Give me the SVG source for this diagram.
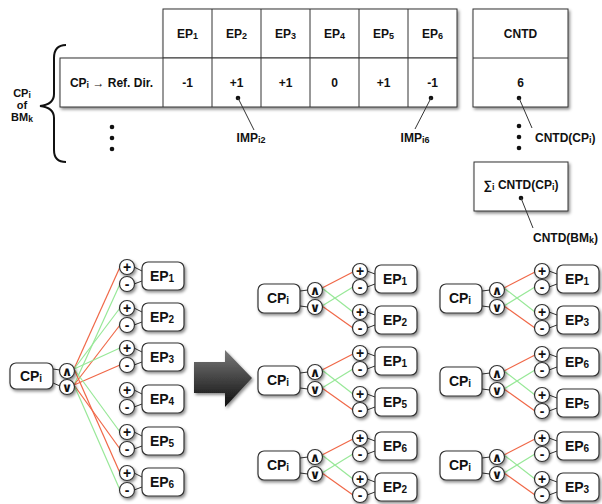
<svg xmlns="http://www.w3.org/2000/svg" width="602" height="504" viewBox="0 0 602 504">
<defs>
<filter id="sh" x="-20%" y="-20%" width="150%" height="160%"><feDropShadow dx="1.5" dy="2" stdDeviation="1.4" flood-color="#000" flood-opacity="0.45"/></filter>
<linearGradient id="ag" x1="0" y1="0" x2="0" y2="1"><stop offset="0" stop-color="#7a7a7a"/><stop offset="1" stop-color="#0d0d0d"/></linearGradient>
<style>
.t{font-family:"Liberation Sans",Arial,sans-serif;font-weight:bold;fill:#111;text-anchor:middle}
.ts{font-size:12px}
.tb{font-size:14px}
.sym{font-family:"DejaVu Sans","Liberation Sans",sans-serif;font-weight:bold;fill:#111;text-anchor:middle;font-size:13px}
.pm{font-family:"Liberation Sans",Arial,sans-serif;font-weight:bold;fill:#111;text-anchor:middle;font-size:14px}
.cell{fill:#fff;stroke:#333;stroke-width:1}
.rb{fill:#fff;stroke:#333;stroke-width:1.2;filter:url(#sh)}
.c{fill:#fff;stroke:#333;stroke-width:1.2;filter:url(#sh)}
.r{stroke:#f06848;stroke-width:1.2;fill:none}
.g{stroke:#98e898;stroke-width:1.2;fill:none}
.k{stroke:#333;stroke-width:1;fill:none}
.dot{fill:#111}
</style>
</defs>
<rect width="602" height="504" fill="#fff"/>

<!-- Top table -->
<g id="table">
<g filter="url(#sh)">
<rect class="cell" x="163" y="9" width="294" height="49"/>
<rect class="cell" x="60" y="58" width="397" height="49"/>
</g>
<path class="k" d="M163 58V107M212 9V107M261 9V107M310 9V107M359 9V107M408 9V107"/>
<text class="t ts" x="187.5" y="38">EP<tspan font-size="9" dy="1">1</tspan></text>
<text class="t ts" x="236.5" y="38">EP<tspan font-size="9" dy="1">2</tspan></text>
<text class="t ts" x="285.5" y="38">EP<tspan font-size="9" dy="1">3</tspan></text>
<text class="t ts" x="334.5" y="38">EP<tspan font-size="9" dy="1">4</tspan></text>
<text class="t ts" x="383.5" y="38">EP<tspan font-size="9" dy="1">5</tspan></text>
<text class="t ts" x="432.5" y="38">EP<tspan font-size="9" dy="1">6</tspan></text>
<text class="t ts" x="111.5" y="87">CP<tspan font-size="9" dy="1">i</tspan><tspan dy="-1"> → Ref. Dir.</tspan></text>
<text class="t ts" x="187.5" y="87">-1</text>
<text class="t ts" x="236.5" y="87">+1</text>
<text class="t ts" x="285.5" y="87">+1</text>
<text class="t ts" x="334.5" y="87">0</text>
<text class="t ts" x="383.5" y="87">+1</text>
<text class="t ts" x="432.5" y="87">-1</text>
</g>

<g id="cntd">
<rect class="cell" x="473" y="9" width="95" height="98" filter="url(#sh)"/>
<path class="k" d="M473 58H568"/>
<text class="t ts" x="520.5" y="38">CNTD</text>
<text class="t ts" x="520.5" y="87">6</text>
</g>

<g id="sum">
<rect class="cell" x="474" y="162" width="94" height="49" filter="url(#sh)"/>
<text class="t ts" x="521" y="189">∑<tspan font-size="9" dy="1">i</tspan><tspan dy="-1"> CNTD(CP</tspan><tspan font-size="9" dy="1">i</tspan><tspan dy="-1">)</tspan></text>
</g>

<g id="brace">
<path d="M66 45C58 45 54 49 54 58L54 94C54 101 49 105 40 106C49 107 54 111 54 118L54 150C54 158 58 162 66 162" fill="none" stroke="#111" stroke-width="2"/>
<text class="t" font-size="11" x="22" y="97">CP<tspan font-size="8.5" dy="0.5">i</tspan></text>
<text class="t" font-size="11" x="22" y="109">of</text>
<text class="t" font-size="11" x="22" y="121">BM<tspan font-size="8.5" dy="0.5">k</tspan></text>
</g>

<g id="annotations">
<circle class="dot" cx="112" cy="127" r="2.3"/><circle class="dot" cx="112" cy="138" r="2.3"/><circle class="dot" cx="112" cy="149" r="2.3"/>
<circle class="dot" cx="519" cy="126" r="2.3"/><circle class="dot" cx="519" cy="137" r="2.3"/><circle class="dot" cx="519" cy="148" r="2.3"/>
<circle class="dot" cx="238" cy="98" r="2.3"/><path class="k" d="M238 98L254 130"/>
<text class="t ts" x="251" y="142">IMP<tspan font-size="9" dy="1">i2</tspan></text>
<circle class="dot" cx="431" cy="98" r="2.3"/><path class="k" d="M431 98L415 129"/>
<text class="t ts" x="415" y="142">IMP<tspan font-size="9" dy="1">i6</tspan></text>
<circle class="dot" cx="519" cy="98" r="2.3"/><path class="k" d="M519 98L532 128"/>
<text class="t ts" x="535" y="142" style="text-anchor:start">CNTD(CP<tspan font-size="9" dy="1">i</tspan><tspan dy="-1">)</tspan></text>
<circle class="dot" cx="521" cy="198" r="2.3"/><path class="k" d="M521 198L533 228"/>
<text class="t ts" x="533" y="242" style="text-anchor:start">CNTD(BM<tspan font-size="9" dy="1">k</tspan><tspan dy="-1">)</tspan></text>
</g>

<!-- Big arrow -->
<g id="arrow">
<polygon points="194,362 225,362 225,350 252,378 225,407 225,393 194,393" fill="url(#ag)" filter="url(#sh)"/>
</g>

<!-- Connectors -->
<g id="connectors">
<path class="r" d="M74 369L120 267"/>
<path class="g" d="M74 385L120 284"/>
<path class="g" d="M74 369L120 308"/>
<path class="r" d="M74 385L120 325"/>
<path class="g" d="M74 369L120 348"/>
<path class="r" d="M74 385L120 365"/>
<path class="g" d="M74 369L120 432"/>
<path class="r" d="M74 385L120 449"/>
<path class="r" d="M74 369L120 473"/>
<path class="g" d="M74 385L120 490"/>
<path class="k" d="M53 369L60 370M53 383L60 386"/>
<path class="k" d="M134 267L142 271M134 284L142 281M134 308L142 312M134 325L142 322M134 348L142 352M134 365L142 362M134 390L142 394M134 407L142 404M134 432L142 436M134 449L142 446M134 473L142 477M134 490L142 487"/>
<g transform="translate(0,298)">
<path class="r" d="M322 -10L353 -26"/><path class="g" d="M322 -10L353 14"/><path class="g" d="M322 8L353 -11"/><path class="r" d="M322 8L353 30"/>
<path class="k" d="M300 -7L308 -8M300 8L308 9M367 -27L375 -24M367 -11L375 -14M367 14L375 17M367 30L375 27"/>
</g>
<g transform="translate(0,380)">
<path class="r" d="M322 -10L353 -26"/><path class="g" d="M322 -10L353 14"/><path class="g" d="M322 8L353 -11"/><path class="r" d="M322 8L353 30"/>
<path class="k" d="M300 -7L308 -8M300 8L308 9M367 -27L375 -24M367 -11L375 -14M367 14L375 17M367 30L375 27"/>
</g>
<g transform="translate(0,465)">
<path class="r" d="M322 -10L353 -26"/><path class="g" d="M322 -10L353 14"/><path class="g" d="M322 8L353 -11"/><path class="r" d="M322 8L353 30"/>
<path class="k" d="M300 -7L308 -8M300 8L308 9M367 -27L375 -24M367 -11L375 -14M367 14L375 17M367 30L375 27"/>
</g>
<g transform="translate(182,298)">
<path class="r" d="M322 -10L353 -26"/><path class="g" d="M322 -10L353 14"/><path class="g" d="M322 8L353 -11"/><path class="r" d="M322 8L353 30"/>
<path class="k" d="M300 -7L308 -8M300 8L308 9M367 -27L375 -24M367 -11L375 -14M367 14L375 17M367 30L375 27"/>
</g>
<g transform="translate(182,381)">
<path class="r" d="M322 -10L353 -26"/><path class="g" d="M322 -10L353 14"/><path class="g" d="M322 8L353 -11"/><path class="r" d="M322 8L353 30"/>
<path class="k" d="M300 -7L308 -8M300 8L308 9M367 -27L375 -24M367 -11L375 -14M367 14L375 17M367 30L375 27"/>
</g>
<g transform="translate(182,465)">
<path class="r" d="M322 -10L353 -26"/><path class="g" d="M322 -10L353 14"/><path class="g" d="M322 8L353 -11"/><path class="r" d="M322 8L353 30"/>
<path class="k" d="M300 -7L308 -8M300 8L308 9M367 -27L375 -24M367 -11L375 -14M367 14L375 17M367 30L375 27"/>
</g>
</g>

<!-- Left graph nodes -->
<g id="left-cp">
<rect class="rb" x="10" y="363" width="43" height="26" rx="6"/>
<text class="t tb" x="31" y="381">CP<tspan font-size="10" dy="1">i</tspan></text>
<circle class="c" cx="67" cy="371" r="7.5"/><text class="sym" x="67" y="375.5">∧</text>
<circle class="c" cx="67" cy="387" r="7.5"/><text class="sym" x="67" y="391.5">∨</text>
</g>
<g id="left-ep1" transform="translate(0,276)">
<circle class="c" cx="127" cy="-9" r="7.5"/><text class="pm" x="127" y="-4">+</text>
<circle class="c" cx="127" cy="8" r="7.5"/><text class="pm" x="127" y="13">-</text>
<rect class="rb" x="142" y="-14" width="42" height="28" rx="6"/>
<text class="t tb" x="162" y="5">EP<tspan font-size="10" dy="1">1</tspan></text>
</g>
<g id="left-ep2" transform="translate(0,317)">
<circle class="c" cx="127" cy="-9" r="7.5"/><text class="pm" x="127" y="-4">+</text>
<circle class="c" cx="127" cy="8" r="7.5"/><text class="pm" x="127" y="13">-</text>
<rect class="rb" x="142" y="-14" width="42" height="28" rx="6"/>
<text class="t tb" x="162" y="5">EP<tspan font-size="10" dy="1">2</tspan></text>
</g>
<g id="left-ep3" transform="translate(0,357)">
<circle class="c" cx="127" cy="-9" r="7.5"/><text class="pm" x="127" y="-4">+</text>
<circle class="c" cx="127" cy="8" r="7.5"/><text class="pm" x="127" y="13">-</text>
<rect class="rb" x="142" y="-14" width="42" height="28" rx="6"/>
<text class="t tb" x="162" y="5">EP<tspan font-size="10" dy="1">3</tspan></text>
</g>
<g id="left-ep4" transform="translate(0,399)">
<circle class="c" cx="127" cy="-9" r="7.5"/><text class="pm" x="127" y="-4">+</text>
<circle class="c" cx="127" cy="8" r="7.5"/><text class="pm" x="127" y="13">-</text>
<rect class="rb" x="142" y="-14" width="42" height="28" rx="6"/>
<text class="t tb" x="162" y="5">EP<tspan font-size="10" dy="1">4</tspan></text>
</g>
<g id="left-ep5" transform="translate(0,441)">
<circle class="c" cx="127" cy="-9" r="7.5"/><text class="pm" x="127" y="-4">+</text>
<circle class="c" cx="127" cy="8" r="7.5"/><text class="pm" x="127" y="13">-</text>
<rect class="rb" x="142" y="-14" width="42" height="28" rx="6"/>
<text class="t tb" x="162" y="5">EP<tspan font-size="10" dy="1">5</tspan></text>
</g>
<g id="left-ep6" transform="translate(0,482)">
<circle class="c" cx="127" cy="-9" r="7.5"/><text class="pm" x="127" y="-4">+</text>
<circle class="c" cx="127" cy="8" r="7.5"/><text class="pm" x="127" y="13">-</text>
<rect class="rb" x="142" y="-14" width="42" height="28" rx="6"/>
<text class="t tb" x="162" y="5">EP<tspan font-size="10" dy="1">6</tspan></text>
</g>

<!-- Small groups -->
<g id="pair-1-2" transform="translate(0,298)">
<rect class="rb" x="258" y="-14" width="42" height="29" rx="6"/>
<text class="t tb" x="278" y="5">CP<tspan font-size="10" dy="1">i</tspan></text>
<circle class="c" cx="315" cy="-8" r="7.5"/><text class="sym" x="315" y="-3.5">∧</text>
<circle class="c" cx="315" cy="9" r="7.5"/><text class="sym" x="315" y="13.5">∨</text>
<circle class="c" cx="360" cy="-27" r="7.5"/><text class="pm" x="360" y="-22">+</text>
<circle class="c" cx="360" cy="-11" r="7.5"/><text class="pm" x="360" y="-6">-</text>
<rect class="rb" x="375" y="-33" width="42" height="28" rx="6"/>
<text class="t tb" x="395" y="-14">EP<tspan font-size="10" dy="1">1</tspan></text>
<circle class="c" cx="360" cy="14" r="7.5"/><text class="pm" x="360" y="19">+</text>
<circle class="c" cx="360" cy="30" r="7.5"/><text class="pm" x="360" y="35">-</text>
<rect class="rb" x="375" y="8" width="42" height="28" rx="6"/>
<text class="t tb" x="395" y="27">EP<tspan font-size="10" dy="1">2</tspan></text>
</g>
<g id="pair-1-5" transform="translate(0,380)">
<rect class="rb" x="258" y="-14" width="42" height="29" rx="6"/>
<text class="t tb" x="278" y="5">CP<tspan font-size="10" dy="1">i</tspan></text>
<circle class="c" cx="315" cy="-8" r="7.5"/><text class="sym" x="315" y="-3.5">∧</text>
<circle class="c" cx="315" cy="9" r="7.5"/><text class="sym" x="315" y="13.5">∨</text>
<circle class="c" cx="360" cy="-27" r="7.5"/><text class="pm" x="360" y="-22">+</text>
<circle class="c" cx="360" cy="-11" r="7.5"/><text class="pm" x="360" y="-6">-</text>
<rect class="rb" x="375" y="-33" width="42" height="28" rx="6"/>
<text class="t tb" x="395" y="-14">EP<tspan font-size="10" dy="1">1</tspan></text>
<circle class="c" cx="360" cy="14" r="7.5"/><text class="pm" x="360" y="19">+</text>
<circle class="c" cx="360" cy="30" r="7.5"/><text class="pm" x="360" y="35">-</text>
<rect class="rb" x="375" y="8" width="42" height="28" rx="6"/>
<text class="t tb" x="395" y="27">EP<tspan font-size="10" dy="1">5</tspan></text>
</g>
<g id="pair-6-2" transform="translate(0,465)">
<rect class="rb" x="258" y="-14" width="42" height="29" rx="6"/>
<text class="t tb" x="278" y="5">CP<tspan font-size="10" dy="1">i</tspan></text>
<circle class="c" cx="315" cy="-8" r="7.5"/><text class="sym" x="315" y="-3.5">∧</text>
<circle class="c" cx="315" cy="9" r="7.5"/><text class="sym" x="315" y="13.5">∨</text>
<circle class="c" cx="360" cy="-27" r="7.5"/><text class="pm" x="360" y="-22">+</text>
<circle class="c" cx="360" cy="-11" r="7.5"/><text class="pm" x="360" y="-6">-</text>
<rect class="rb" x="375" y="-33" width="42" height="28" rx="6"/>
<text class="t tb" x="395" y="-14">EP<tspan font-size="10" dy="1">6</tspan></text>
<circle class="c" cx="360" cy="14" r="7.5"/><text class="pm" x="360" y="19">+</text>
<circle class="c" cx="360" cy="30" r="7.5"/><text class="pm" x="360" y="35">-</text>
<rect class="rb" x="375" y="8" width="42" height="28" rx="6"/>
<text class="t tb" x="395" y="27">EP<tspan font-size="10" dy="1">2</tspan></text>
</g>
<g id="pair-1-3" transform="translate(182,298)">
<rect class="rb" x="258" y="-14" width="42" height="29" rx="6"/>
<text class="t tb" x="278" y="5">CP<tspan font-size="10" dy="1">i</tspan></text>
<circle class="c" cx="315" cy="-8" r="7.5"/><text class="sym" x="315" y="-3.5">∧</text>
<circle class="c" cx="315" cy="9" r="7.5"/><text class="sym" x="315" y="13.5">∨</text>
<circle class="c" cx="360" cy="-27" r="7.5"/><text class="pm" x="360" y="-22">+</text>
<circle class="c" cx="360" cy="-11" r="7.5"/><text class="pm" x="360" y="-6">-</text>
<rect class="rb" x="375" y="-33" width="42" height="28" rx="6"/>
<text class="t tb" x="395" y="-14">EP<tspan font-size="10" dy="1">1</tspan></text>
<circle class="c" cx="360" cy="14" r="7.5"/><text class="pm" x="360" y="19">+</text>
<circle class="c" cx="360" cy="30" r="7.5"/><text class="pm" x="360" y="35">-</text>
<rect class="rb" x="375" y="8" width="42" height="28" rx="6"/>
<text class="t tb" x="395" y="27">EP<tspan font-size="10" dy="1">3</tspan></text>
</g>
<g id="pair-6-5" transform="translate(182,381)">
<rect class="rb" x="258" y="-14" width="42" height="29" rx="6"/>
<text class="t tb" x="278" y="5">CP<tspan font-size="10" dy="1">i</tspan></text>
<circle class="c" cx="315" cy="-8" r="7.5"/><text class="sym" x="315" y="-3.5">∧</text>
<circle class="c" cx="315" cy="9" r="7.5"/><text class="sym" x="315" y="13.5">∨</text>
<circle class="c" cx="360" cy="-27" r="7.5"/><text class="pm" x="360" y="-22">+</text>
<circle class="c" cx="360" cy="-11" r="7.5"/><text class="pm" x="360" y="-6">-</text>
<rect class="rb" x="375" y="-33" width="42" height="28" rx="6"/>
<text class="t tb" x="395" y="-14">EP<tspan font-size="10" dy="1">6</tspan></text>
<circle class="c" cx="360" cy="14" r="7.5"/><text class="pm" x="360" y="19">+</text>
<circle class="c" cx="360" cy="30" r="7.5"/><text class="pm" x="360" y="35">-</text>
<rect class="rb" x="375" y="8" width="42" height="28" rx="6"/>
<text class="t tb" x="395" y="27">EP<tspan font-size="10" dy="1">5</tspan></text>
</g>
<g id="pair-6-3" transform="translate(182,465)">
<rect class="rb" x="258" y="-14" width="42" height="29" rx="6"/>
<text class="t tb" x="278" y="5">CP<tspan font-size="10" dy="1">i</tspan></text>
<circle class="c" cx="315" cy="-8" r="7.5"/><text class="sym" x="315" y="-3.5">∧</text>
<circle class="c" cx="315" cy="9" r="7.5"/><text class="sym" x="315" y="13.5">∨</text>
<circle class="c" cx="360" cy="-27" r="7.5"/><text class="pm" x="360" y="-22">+</text>
<circle class="c" cx="360" cy="-11" r="7.5"/><text class="pm" x="360" y="-6">-</text>
<rect class="rb" x="375" y="-33" width="42" height="28" rx="6"/>
<text class="t tb" x="395" y="-14">EP<tspan font-size="10" dy="1">6</tspan></text>
<circle class="c" cx="360" cy="14" r="7.5"/><text class="pm" x="360" y="19">+</text>
<circle class="c" cx="360" cy="30" r="7.5"/><text class="pm" x="360" y="35">-</text>
<rect class="rb" x="375" y="8" width="42" height="28" rx="6"/>
<text class="t tb" x="395" y="27">EP<tspan font-size="10" dy="1">3</tspan></text>
</g>
</svg>
